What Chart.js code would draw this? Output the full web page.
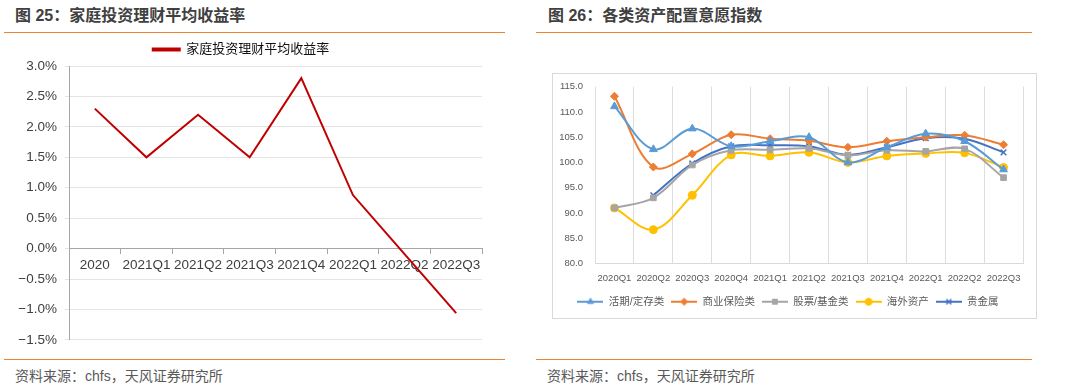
<!DOCTYPE html>
<html>
<head>
<meta charset="utf-8">
<script src="https://cdn.jsdelivr.net/npm/chart.js@4.4.0/dist/chart.umd.min.js"></script>
<style>
  body { margin: 0; width: 1065px; height: 388px; background: #fff; position: relative; overflow: hidden;
         font-family: "Liberation Sans", "Noto Sans CJK SC", sans-serif; }
  .title { position: absolute; top: 5px; font-size: 16px; line-height: 22px; font-weight: bold; color: #404040; white-space: nowrap; }
  .rule { position: absolute; height: 1.5px; background: #EE8433; }
  .src { position: absolute; top: 367px; font-size: 14px; line-height: 18px; color: #595959; white-space: nowrap; }
  .box { position: absolute; left: 552px; top: 73px; width: 483px; height: 244px; border: 1px solid #D9D9D9; }
  canvas { position: absolute; }
</style>
</head>
<body>
<div class="title" style="left:15px">图 25：家庭投资理财平均收益率</div>
<div class="rule" style="left:4px;width:501px;top:31.5px"></div>
<div class="rule" style="left:4px;width:501px;top:358.5px"></div>
<div class="src" style="left:15px">资料来源：chfs，天风证券研究所</div>

<div class="title" style="left:548px">图 26：各类资产配置意愿指数</div>
<div class="rule" style="left:536px;width:496px;top:31.5px"></div>
<div class="rule" style="left:536px;width:496px;top:358.5px"></div>
<div class="src" style="left:547px">资料来源：chfs，天风证券研究所</div>

<div class="box"></div>
<canvas id="yieldChart" width="520" height="320" style="left:0;top:36px"></canvas>
<canvas id="assetChart" width="482" height="248" style="left:553px;top:69px"></canvas>

<script>
// figure 25 data
const periods = ["2020", "2021Q1", "2021Q2", "2021Q3", "2021Q4", "2022Q1", "2022Q2", "2022Q3"];
const avgYield = [2.3, 1.5, 2.2, 1.5, 2.8, 0.88, -0.09, -1.06];

// figure 26 data
const quarters = ["2020Q1", "2020Q2", "2020Q3", "2020Q4", "2021Q1", "2021Q2", "2021Q3", "2021Q4", "2022Q1", "2022Q2", "2022Q3"];
const deposits = [111.1, 102.6, 106.7, 103.2, 104.2, 105.0, 100.0, 103.0, 105.7, 104.2, 98.6];
const insurance = [113.1, 99.1, 101.7, 105.5, 104.7, 104.3, 103.0, 104.2, 105.0, 105.4, 103.5];
const stocks = [91.0, 93.0, 99.5, 102.4, 102.5, 102.8, 101.4, 102.4, 102.2, 102.7, 97.0];
const overseas = [91.0, 86.7, 93.5, 101.5, 101.3, 102.0, 100.0, 101.3, 101.8, 101.9, 99.0];
const metals = [null, 93.5, 99.8, 103.2, 103.4, 103.2, 101.5, 103.0, 104.8, 104.7, 102.0];

const fontFamily = '"Liberation Sans", "Noto Sans CJK SC", sans-serif';

// left chart: average yield
new Chart(document.getElementById("yieldChart").getContext("2d"), {
  type: "line",
  data: {
    labels: periods,
    datasets: [{
      label: "家庭投资理财平均收益率",
      data: avgYield,
      borderColor: "#C00000",
      backgroundColor: "#C00000",
      borderWidth: 2,
      pointRadius: 0,
      tension: 0,
    }],
  },
  options: {
    responsive: false,
    animation: false,
    layout: { padding: { left: 0, right: 38, top: 0, bottom: 14.5 } },
    plugins: {
      tooltip: { enabled: false },
      legend: {
        position: "top",
        labels: { boxWidth: 27, boxHeight: 2, padding: 7, color: "#111", font: { size: 13, family: fontFamily } },
      },
    },
    scales: {
      x: {
        position: { y: 0 },
        offset: true,
        grid: { offset: true, drawOnChartArea: false, drawTicks: true, tickLength: 5, color: "#A6A6A6" },
        border: { color: "#A6A6A6" },
        ticks: { color: "#404040", font: { size: 13.5, family: fontFamily }, maxRotation: 0, autoSkip: false, padding: 4 },
      },
      y: {
        min: -1.5,
        max: 3,
        afterFit: (scale) => { scale.width = 69; },
        grid: { color: "#E4E4E4", tickLength: 4 },
        border: { color: "#A6A6A6" },
        ticks: {
          stepSize: 0.5,
          padding: 8,
          color: "#404040",
          font: { size: 13.5, family: fontFamily },
          callback: (v) => (v < 0 ? "\u2212" + Math.abs(v).toFixed(1) : v.toFixed(1)) + "%",
        },
      },
    },
  },
});

// legend swatch: short line with the marker in the middle
function swatch(color, style, radius) {
  const c = document.createElement("canvas");
  c.width = 26;
  c.height = 10;
  const g = c.getContext("2d");
  g.strokeStyle = color;
  g.lineWidth = 2;
  g.beginPath();
  g.moveTo(0, 5);
  g.lineTo(26, 5);
  g.stroke();
  g.fillStyle = color;
  g.lineWidth = style === "crossRot" ? 1.5 : 1;
  Chart.helpers.drawPoint(g, { pointStyle: style, radius: radius, rotation: 0, borderWidth: g.lineWidth }, 13, 5);
  return c;
}

const seriesInfo = [
  { label: "活期/定存类", data: deposits, color: "#5B9BD5", style: "triangle", r: 4.5 },
  { label: "商业保险类", data: insurance, color: "#ED7D31", style: "rectRot", r: 4 },
  { label: "股票/基金类", data: stocks, color: "#A5A5A5", style: "rect", r: 4 },
  { label: "海外资产", data: overseas, color: "#FFC000", style: "circle", r: 4 },
  { label: "贵金属", data: metals, color: "#4472C4", style: "crossRot", r: 4 },
];

new Chart(document.getElementById("assetChart").getContext("2d"), {
  type: "line",
  data: {
    labels: quarters,
    datasets: seriesInfo.map((s) => ({
      label: s.label,
      data: s.data,
      borderColor: s.color,
      backgroundColor: s.color,
      borderWidth: 2,
      tension: 0.35,
      pointStyle: s.style,
      pointRadius: s.r,
      pointBorderWidth: s.style === "crossRot" ? 1.5 : 1,
    })),
  },
  options: {
    responsive: false,
    animation: false,
    layout: { padding: { left: 0, right: 12, top: 7, bottom: 0 } },
    plugins: {
      tooltip: { enabled: false },
      legend: {
        position: "bottom",
        labels: {
          usePointStyle: true,
          pointStyleWidth: 26,
          padding: 7,
          color: "#595959",
          font: { size: 10.5, family: fontFamily },
          generateLabels: (chart) =>
            seriesInfo.map((s, i) => ({
              text: s.label,
              datasetIndex: i,
              pointStyle: swatch(s.color, s.style, 3.5),
              fillStyle: s.color,
              strokeStyle: s.color,
              lineWidth: 0,
              fontColor: "#595959",
            })),
        },
      },
    },
    scales: {
      x: {
        offset: true,
        afterFit: (scale) => { scale.height = 26; },
        grid: { offset: true, color: "#DDDDDD", drawTicks: false },
        border: { color: "#D9D9D9" },
        ticks: { color: "#595959", font: { size: 9.5, family: fontFamily }, maxRotation: 0, autoSkip: false, padding: 9 },
      },
      y: {
        min: 80,
        max: 115,
        afterFit: (scale) => { scale.width = 42; },
        grid: { display: false, drawTicks: false },
        border: { display: false },
        ticks: { stepSize: 5, padding: 12, color: "#595959", font: { size: 9.5, family: fontFamily }, callback: (v) => v.toFixed(1) },
      },
    },
  },
});
</script>
</body>
</html>
